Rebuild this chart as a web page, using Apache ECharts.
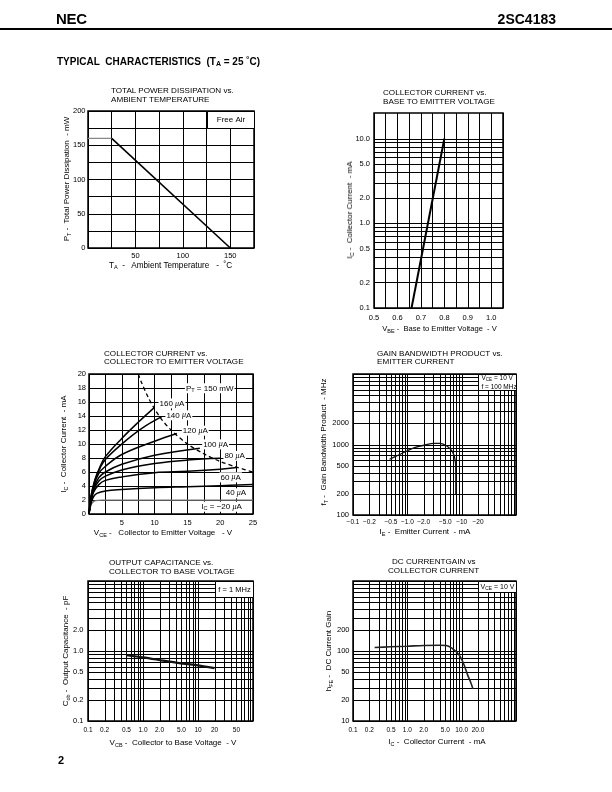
<!DOCTYPE html>
<html>
<head>
<meta charset="utf-8">
<title>2SC4183 Typical Characteristics</title>
<script src="https://cdn.jsdelivr.net/npm/echarts@6/dist/echarts.min.js"></script>
<style>
html,body{margin:0;padding:0;background:#fff;}
body{width:612px;height:792px;overflow:hidden;position:relative;font-family:"Liberation Sans",Arial,Helvetica,sans-serif;color:#000;}
#chart{position:absolute;left:0;top:0;width:612px;height:792px;}
.t{position:absolute;white-space:nowrap;line-height:1;}
.c{transform:translate(-50%,-50%);}
.r{transform:translate(-50%,-50%) rotate(-90deg);}
.ttl{font-size:8.1px;line-height:8.5px;}
.ax{font-size:8px;}
sub{font-size:5.5px;vertical-align:-1.5px;line-height:0;}
</style>
</head>
<body>
<div id="chart"></div>

<div class="t" style="left:56px;top:11px;font-size:15px;font-weight:900;letter-spacing:-0.3px;">NEC</div>
<div class="t" style="right:56px;top:12px;font-size:14px;font-weight:bold;">2SC4183</div>
<div style="position:absolute;left:0;top:28px;width:612px;height:1.5px;background:#000;"></div>
<div class="t" style="left:57px;top:57px;font-size:10px;font-weight:bold;">TYPICAL&nbsp; CHARACTERISTICS&nbsp; (T<sub style="font-size:7px;vertical-align:-1px;">A</sub> = 25 ˚C)</div>
<div class="t" style="left:58px;top:755px;font-size:11px;font-weight:bold;">2</div>

<div class="t ttl" style="left:111px;top:87px;">TOTAL POWER DISSIPATION vs.<br>AMBIENT TEMPERATURE</div>
<div class="t ttl" style="left:383px;top:89px;">COLLECTOR CURRENT vs.<br>BASE TO EMITTER VOLTAGE</div>
<div class="t ttl" style="left:104px;top:349.5px;">COLLECTOR CURRENT vs.<br>COLLECTOR TO EMITTER VOLTAGE</div>
<div class="t ttl" style="left:377px;top:349.5px;">GAIN BANDWIDTH PRODUCT vs.<br>EMITTER CURRENT</div>
<div class="t ttl" style="left:109px;top:559px;">OUTPUT CAPACITANCE vs.<br>COLLECTOR TO BASE VOLTAGE</div>
<div class="t ttl" style="left:392px;top:558px;">DC CURRENTGAIN vs</div>
<div class="t ttl" style="left:388px;top:566.5px;">COLLECTOR CURRENT</div>

<div class="t ax c" style="left:170.5px;top:265.5px;font-size:8.2px;">T<sub>A</sub>&nbsp; -&nbsp;&nbsp; Ambient Temperature &nbsp;&nbsp;- &nbsp;˚C</div>
<div class="t ax r" style="left:67px;top:179px;">P<sub>T</sub> -&nbsp; Total Power Dissipation &nbsp;- mW</div>
<div class="t ax c" style="left:439.5px;top:329px;font-size:7.6px;">V<sub>BE</sub> -&nbsp; Base to Emitter Voltage &nbsp;- V</div>
<div class="t ax r" style="left:350px;top:210px;">I<sub>C</sub> -&nbsp; Collector Current &nbsp;- mA</div>
<div class="t ax c" style="left:163px;top:533px;">V<sub>CE</sub> -&nbsp;&nbsp; Collector to Emitter Voltage &nbsp;&nbsp;- V</div>
<div class="t ax r" style="left:64px;top:444px;">I<sub>C</sub> -&nbsp; Collector Current &nbsp;- mA</div>
<div class="t ax c" style="left:425px;top:532px;">I<sub>E</sub> -&nbsp; Emitter Current &nbsp;- mA</div>
<div class="t ax r" style="left:324px;top:442px;">f<sub>T</sub> -&nbsp; Gain Bandwidth Product &nbsp;- MHz</div>
<div class="t ax c" style="left:173px;top:742.5px;">V<sub>CB</sub> -&nbsp; Collector to Base Voltage &nbsp;- V</div>
<div class="t ax r" style="left:66px;top:651px;">C<sub>ob</sub> -&nbsp; Output Capacitance &nbsp;- pF</div>
<div class="t ax c" style="left:437px;top:742px;">I<sub>C</sub> -&nbsp; Collector Current &nbsp;- mA</div>
<div class="t ax r" style="left:329px;top:651px;">h<sub>FE</sub> -&nbsp; DC Current Gain</div>

<script>
// ===================== DATA =====================
// Chart 1: total power dissipation vs ambient temperature
const pdTemp  = [0, 25, 150];
const pdPower = [160, 160, 0];

// Chart 2: collector current vs base-emitter voltage
const vbeVolt = [0.66, 0.80];
const vbeIc   = [0.1, 10];

// Chart 3: collector current vs collector-emitter voltage, one curve per base current
const ib20  = [[0,0],[0.2,1.0],[0.5,1.6],[1,1.9],[2,1.97],[25,1.97]];
const ib40  = [[0,0],[0.3,1.5],[0.7,2.5],[1.2,2.95],[2.5,3.3],[5,3.5],[10,3.75],[15,3.9],[20,4.05],[25,4.2]];
const ib60  = [[0,0],[0.3,1.8],[0.7,3.1],[1.5,4.2],[2.5,4.8],[5,5.3],[10,5.9],[15,6.1],[20,6.4],[22.5,6.65]];
const ib80  = [[0,0],[0.3,1.9],[0.7,3.4],[1.5,4.7],[2.5,5.4],[5,6.3],[10,7.2],[15,7.7],[20,7.95]];
const ib100 = [[0,0],[0.3,2.0],[0.7,3.6],[1.5,5.2],[2.5,6.0],[5,7.1],[10,8.4],[16.9,9.4]];
const ib120 = [[0,0],[0.3,2.2],[0.7,3.9],[1.5,5.8],[2.5,6.8],[5,8.5],[10,10.4],[13.4,11.5]];
const ib140 = [[0,0],[0.3,2.4],[0.9,4.8],[1.7,6.6],[2.5,7.8],[5,10.0],[8,12.2],[11.1,13.9]];
const ib160 = [[0,0],[0.3,2.5],[0.9,4.9],[1.7,6.8],[2.5,8.2],[5,10.8],[7.5,13.1],[9.95,15.2]];
const ptLimit = [[7.5,20],[8,18.8],[9,16.7],[10,15],[11,13.6],[12.5,12],[15,10],[17.5,8.6],[20,7.5],[22.5,6.7],[25,6]];

// Chart 4: gain bandwidth product vs emitter current (magnitude of IE, mA)
const ftIe = [0.47, 0.69, 0.98, 1.40, 2.13, 3.03, 4.03, 5.35, 6.6, 7.3, 7.7, 7.8, 7.8];
const ftMHz = [617, 710, 809, 912, 984, 1040, 1040, 952, 809, 687, 541, 390, 195];

// Chart 5: output capacitance vs collector-base voltage
const cobV  = [0.5, 1.0, 2.3, 4.6, 9.3, 20];
const cobPf = [0.87, 0.81, 0.73, 0.67, 0.63, 0.57];

// Chart 6: DC current gain vs collector current
const hfeIc = [0.25, 0.49, 0.98, 2.0, 4.0, 5.2, 6.6, 8.2, 9.7, 11.1, 12.8, 14.8, 16.1];
const hfe   = [112, 115, 117, 120, 121, 120, 110, 95, 80, 63, 46, 35, 29];

// Tick labels for the logarithmic axes
const c2yTicks = [0.1, 0.2, 0.5, 1, 2, 5, 10];
const c2yLabels = ['0.1','0.2','0.5','1.0','2.0','5.0','10.0'];
const c4xTicks = [0.1, 0.2, 0.5, 1, 2, 5, 10, 20];
const c4xLabels = ['\u22120.1','\u22120.2','\u22120.5','\u22121.0','\u22122.0','\u22125.0','\u221210','\u221220'];
const c4yTicks = [100, 200, 500, 1000, 2000];
const c4yLabels = ['100','200','500','1000','2000'];
const c5xTicks = [0.1, 0.2, 0.5, 1, 2, 5, 10, 20, 50];
const c5xLabels = ['0.1','0.2','0.5','1.0','2.0','5.0','10','20','50'];
const c5yTicks = [0.1, 0.2, 0.5, 1, 2];
const c5yLabels = ['0.1','0.2','0.5','1.0','2.0'];
const c6xTicks = [0.1, 0.2, 0.5, 1, 2, 5, 10, 20];
const c6xLabels = ['0.1','0.2','0.5','1.0','2.0','5.0','10.0','20.0'];
const c6yTicks = [10, 20, 50, 100, 200];
const c6yLabels = ['10','20','50','100','200'];

// ===================== HELPERS =====================
const FONT = 'Liberation Sans';
const BLACK = '#000';

function decadeLines(lo, hi) {
  const out = [];
  const e0 = Math.floor(Math.log10(lo) + 1e-9);
  const e1 = Math.floor(Math.log10(hi) + 1e-9);
  for (let e = e0; e <= e1; e++) {
    for (let m = 1; m <= 9; m++) {
      const v = +(m * Math.pow(10, e)).toPrecision(6);
      if (v >= lo * 0.9999 && v <= hi * 1.0001) out.push(v);
    }
  }
  return out;
}

function richSet(size) {
  return {
    n: {fontSize: size, fontFamily: FONT, fill: BLACK, lineHeight: size + 2},
    s: {fontSize: size * 0.7, fontFamily: FONT, fill: BLACK, lineHeight: size * 0.7, verticalAlign: 'bottom'},
    m: {fontSize: size, fontFamily: 'Liberation Serif', fontStyle: 'italic', fill: BLACK, lineHeight: size + 2}
  };
}

function vGrid(gi, xs, yr) {
  return {type: 'custom', xAxisIndex: gi, yAxisIndex: gi, z: 1, silent: true,
    data: xs.map(v => [v, yr[0]]),
    renderItem: (p, api) => {
      const v = api.value(0);
      const a = api.coord([v, yr[0]]), b = api.coord([v, yr[1]]);
      const x = Math.round(a[0]) + 0.5;
      return {type: 'line', shape: {x1: x, y1: a[1], x2: x, y2: b[1]}, style: {stroke: BLACK, lineWidth: 1}};
    }};
}
function hGrid(gi, ys, xr) {
  return {type: 'custom', xAxisIndex: gi, yAxisIndex: gi, z: 1, silent: true,
    data: ys.map(v => [xr[0], v]),
    renderItem: (p, api) => {
      const v = api.value(1);
      const a = api.coord([xr[0], v]), b = api.coord([xr[1], v]);
      const y = Math.round(a[1]) + 0.5;
      return {type: 'line', shape: {x1: a[0], y1: y, x2: b[0], y2: y}, style: {stroke: BLACK, lineWidth: 1}};
    }};
}
function xTickLabels(gi, ticks, labels, yMin, gap, size) {
  return {type: 'custom', xAxisIndex: gi, yAxisIndex: gi, z: 6, silent: true, clip: false,
    data: ticks.map(v => [v, yMin]),
    renderItem: (p, api) => {
      const c = api.coord([api.value(0), yMin]);
      return {type: 'text', x: c[0], y: c[1] + gap,
        style: {text: labels[p.dataIndex], fill: BLACK, fontSize: size, fontFamily: FONT,
          align: 'center', verticalAlign: 'top', textAlign: 'center', textVerticalAlign: 'top'}};
    }};
}
function yTickLabels(gi, ticks, labels, xMin, gap, size) {
  return {type: 'custom', xAxisIndex: gi, yAxisIndex: gi, z: 6, silent: true, clip: false,
    data: ticks.map(v => [xMin, v]),
    renderItem: (p, api) => {
      const c = api.coord([xMin, api.value(1)]);
      return {type: 'text', x: c[0] - gap, y: c[1],
        style: {text: labels[p.dataIndex], fill: BLACK, fontSize: size, fontFamily: FONT,
          align: 'right', verticalAlign: 'middle', textAlign: 'right', textVerticalAlign: 'middle'}};
    }};
}
function boxSeries(gi, x1, y1, x2, y2, text, size, align) {
  return {type: 'custom', xAxisIndex: gi, yAxisIndex: gi, z: 3, silent: true, clip: false,
    data: [[x1, y1]],
    renderItem: (p, api) => {
      const a = api.coord([x1, y1]), b = api.coord([x2, y2]);
      const L = Math.round(Math.min(a[0], b[0])) + 0.5, R = Math.round(Math.max(a[0], b[0])) + 0.5;
      const T = Math.round(Math.min(a[1], b[1])) + 0.5, B = Math.round(Math.max(a[1], b[1])) + 0.5;
      const tx = align === 'left' ? L + 3 : (L + R) / 2;
      return {type: 'group', children: [
        {type: 'rect', shape: {x: L, y: T, width: R - L, height: B - T}, style: {fill: '#fff', stroke: BLACK, lineWidth: 1}},
        {type: 'text', x: tx, y: (T + B) / 2, style: {text: text, rich: richSet(size), fill: BLACK, fontSize: size, fontFamily: FONT,
          align: align, verticalAlign: 'middle', textAlign: align, textVerticalAlign: 'middle', lineHeight: size + 2}}
      ]};
    }};
}
function curve(gi, data, width, color, extra) {
  return Object.assign({type: 'line', xAxisIndex: gi, yAxisIndex: gi, data: data, showSymbol: false, symbol: 'none',
    silent: true, z: 4, lineStyle: {color: color || BLACK, width: width || 1.5}}, extra || {});
}
function valAxis(gi, min, max, interval, fmt, margin, size) {
  return {type: 'value', gridIndex: gi, min: min, max: max, interval: interval,
    axisLine: {show: false}, axisTick: {show: false},
    splitLine: {show: true, lineStyle: {color: BLACK, width: 1}},
    axisLabel: {show: true, formatter: fmt, margin: margin, color: BLACK, fontSize: size, fontFamily: FONT,
      showMinLabel: true, showMaxLabel: true}};
}
function logAxis(gi, min, max) {
  return {type: 'log', logBase: 10, gridIndex: gi, min: min, max: max,
    axisLine: {show: false}, axisTick: {show: false}, splitLine: {show: false},
    minorTick: {show: false}, minorSplitLine: {show: false}, axisLabel: {show: false}};
}

// ===================== CHART =====================
const chart = echarts.init(document.getElementById('chart'));
const gridBase = {show: true, borderColor: BLACK, borderWidth: 1.5, backgroundColor: 'rgba(0,0,0,0)', containLabel: false};

// Annotations for chart 3 (label anchors in data units)
const ann3 = [
  {at: [18.4, 17.95], text: '{n|P}{s|T}{n| = 150 mW}'},
  {at: [12.65, 15.8], text: '{n|160 }{m|\u03bc}{n|A}'},
  {at: [13.7, 14.1], text: '{n|140 }{m|\u03bc}{n|A}'},
  {at: [16.2, 11.9], text: '{n|120 }{m|\u03bc}{n|A}'},
  {at: [19.3, 9.95], text: '{n|100 }{m|\u03bc}{n|A}'},
  {at: [22.2, 8.3], text: '{n|80 }{m|\u03bc}{n|A}'},
  {at: [21.6, 5.24], text: '{n|60 }{m|\u03bc}{n|A}'},
  {at: [22.4, 2.96], text: '{n|40 }{m|\u03bc}{n|A}'},
  {at: [20.2, 1.04], text: '{n|I}{s|C}{n| = \u221220 }{m|\u03bc}{n|A}'}
];

const pdPoints = pdTemp.map((t, i) => [t, pdPower[i]]);

const option = {
  animation: false,
  backgroundColor: '#fff',
  grid: [
    Object.assign({left: 88, top: 111, width: 166, height: 137}, gridBase),
    Object.assign({left: 374, top: 113, width: 129, height: 195}, gridBase),
    Object.assign({left: 89, top: 374, width: 164, height: 140}, gridBase),
    Object.assign({left: 353, top: 374, width: 163, height: 141}, gridBase),
    Object.assign({left: 88, top: 581, width: 165, height: 140}, gridBase),
    Object.assign({left: 353, top: 581, width: 163, height: 140}, gridBase)
  ],
  xAxis: [
    valAxis(0, 0, 175, 25, v => ([50, 100, 150].indexOf(v) >= 0 ? String(v) : ''), 4, 7.5),
    valAxis(1, 0.5, 1.05, 0.05, v => { const r = Math.round(v * 100); return (r % 10 === 0 && r <= 100) ? (r / 100).toFixed(1) : ''; }, 6, 7.5),
    valAxis(2, 0, 25, 2.5, v => (v > 0 && Math.abs(v % 5) < 1e-6 ? String(v) : ''), 5, 7.5),
    logAxis(3, 0.1, 100),
    logAxis(4, 0.1, 100),
    logAxis(5, 0.1, 100)
  ],
  yAxis: [
    valAxis(0, 0, 200, 25, v => (v % 50 === 0 ? String(v) : ''), 2.5, 7.5),
    logAxis(1, 0.1, 20),
    valAxis(2, 0, 20, 2, v => String(v), 3, 7.5),
    logAxis(3, 100, 10000),
    logAxis(4, 0.1, 10),
    logAxis(5, 10, 1000)
  ],
  series: [
    // ---- chart 1 ----
    boxSeries(0, 125, 175, 175, 200, '{n|Free Air}', 8, 'center'),
    curve(0, pdPoints.slice(0, 2), 1.2, '#888'),
    curve(0, pdPoints.slice(1), 1.6),

    // ---- chart 2 ----
    hGrid(1, decadeLines(0.1, 10), [0.5, 1.05]),
    yTickLabels(1, c2yTicks, c2yLabels, 0.5, 4, 7.5),
    curve(1, vbeVolt.map((v, i) => [v, vbeIc[i]]), 2),

    // ---- chart 3 ----
    curve(2, ib20, 1.3, '#777', {smooth: 0.4}),
    curve(2, ib40, 1.5, BLACK, {smooth: 0.4}),
    curve(2, ib60, 1.5, BLACK, {smooth: 0.4}),
    curve(2, ib80, 1.5, BLACK, {smooth: 0.4}),
    curve(2, ib100, 1.5, BLACK, {smooth: 0.4}),
    curve(2, ib120, 1.5, BLACK, {smooth: 0.4}),
    curve(2, ib140, 1.5, BLACK, {smooth: 0.4}),
    curve(2, ib160, 1.5, BLACK, {smooth: 0.4}),
    curve(2, ptLimit, 1.3, BLACK, {smooth: 0.3, lineStyle: {color: BLACK, width: 1.3, type: [4, 3]}}),
    {type: 'custom', xAxisIndex: 2, yAxisIndex: 2, z: 5, silent: true, clip: false,
      data: ann3.map(a => a.at),
      renderItem: (p, api) => {
        const c = api.coord([api.value(0), api.value(1)]);
        return {type: 'text', x: c[0], y: c[1], style: {text: ann3[p.dataIndex].text, rich: richSet(8), fill: BLACK,
          fontSize: 8, fontFamily: FONT, align: 'center', verticalAlign: 'middle', textAlign: 'center', textVerticalAlign: 'middle',
          backgroundColor: '#fff', padding: [0, 1]}};
      }},

    // ---- chart 4 ----
    vGrid(3, decadeLines(0.1, 100), [100, 10000]),
    hGrid(3, decadeLines(100, 10000), [0.1, 100]),
    xTickLabels(3, c4xTicks, c4xLabels, 100, 4, 6.5),
    yTickLabels(3, c4yTicks, c4yLabels, 0.1, 4, 7.5),
    boxSeries(3, 20, 6000, 100, 10000, '{n|V}{s|CE}{n| = 10 V}\n{n|f = 100 MHz}', 6.5, 'left'),
    curve(3, ftIe.map((v, i) => [v, ftMHz[i]]), 1.3, '#111', {smooth: 0.3}),

    // ---- chart 5 ----
    vGrid(4, decadeLines(0.1, 100), [0.1, 10]),
    hGrid(4, decadeLines(0.1, 10), [0.1, 100]),
    xTickLabels(4, c5xTicks, c5xLabels, 0.1, 6, 6.5),
    yTickLabels(4, c5yTicks, c5yLabels, 0.1, 4.5, 7.5),
    boxSeries(4, 20, 6, 100, 10, '{n|f = 1 MHz}', 7.5, 'center'),
    curve(4, cobV.map((v, i) => [v, cobPf[i]]), 2.2, '#111', {smooth: 0.3}),

    // ---- chart 6 ----
    vGrid(5, decadeLines(0.1, 100), [10, 1000]),
    hGrid(5, decadeLines(10, 1000), [0.1, 100]),
    xTickLabels(5, c6xTicks, c6xLabels, 10, 6, 6.5),
    yTickLabels(5, c6yTicks, c6yLabels, 0.1, 3.5, 7.5),
    boxSeries(5, 20, 700, 100, 1000, '{n|V}{s|CE}{n| = 10 V}', 7, 'center'),
    curve(5, hfeIc.map((v, i) => [v, hfe[i]]), 1.6, '#222', {smooth: 0.3})
  ]
};
chart.setOption(option);
</script>
</body>
</html>
